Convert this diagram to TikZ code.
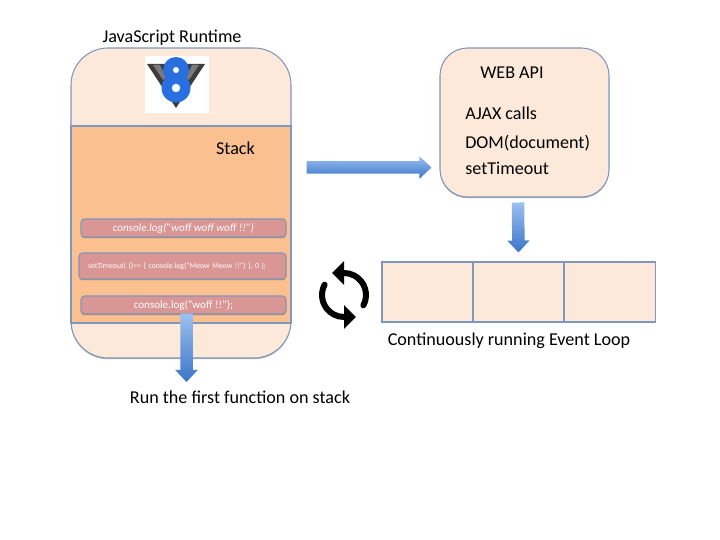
\documentclass[tikz,border=0pt]{standalone}
\usepackage{fontspec}
\setmainfont{Carlito}
\usepackage{xcolor}
\usetikzlibrary{arrows.meta,positioning,calc,shadows}
\definecolor{peach}{HTML}{FDE9D9}
\definecolor{stackbg}{HTML}{FAC090}
\definecolor{callbg}{HTML}{D99694}
\definecolor{edgeblue}{HTML}{7F97BC}
\definecolor{arrtop}{HTML}{9CC0F0}
\definecolor{arrbot}{HTML}{3A75C8}
\definecolor{v8blue}{HTML}{2A6FE0}
\definecolor{v8dark}{HTML}{3C3C3C}
\definecolor{v8gray}{HTML}{7A7A7A}
\tikzset{
  softshadow/.style={drop shadow={shadow xshift=0pt,shadow yshift=-0.7pt,opacity=0.3,fill=black}},
  roundbox/.style={draw=edgeblue,fill=peach,line width=0.6pt,softshadow},
  slotbox/.style={draw=edgeblue,fill=peach,line width=0.6pt,minimum width=1.82cm,minimum height=1.2cm,inner sep=0pt,softshadow},
  callbox/.style={draw=edgeblue,fill=callbg,line width=0.6pt,rounded corners=2pt,inner sep=0pt,
                  text=white,align=center,softshadow},
  labeltext/.style={font=\fontsize{10.3}{12}\selectfont,inner sep=0pt},
  fatarr/.style={top color=arrtop,bottom color=arrbot,
    to path={-- ($(\tikztostart)!.125cm!90:(\tikztotarget)$)
             -- ($(\tikztotarget)!.24cm!(\tikztostart)!.125cm!90:(\tikztotarget)$)
             -- ($(\tikztotarget)!.24cm!(\tikztostart)!.225cm!90:(\tikztotarget)$)
             -- (\tikztotarget)
             -- ($(\tikztotarget)!.24cm!(\tikztostart)!.225cm!-90:(\tikztotarget)$)
             -- ($(\tikztotarget)!.24cm!(\tikztostart)!.125cm!-90:(\tikztotarget)$)
             -- ($(\tikztostart)!.125cm!-90:(\tikztotarget)$) -- cycle}},
  syncarr/.style={line width=0.12cm,line cap=round,-{Triangle[length=.24cm,width=.46cm]}}
}

\begin{document}
\begin{tikzpicture}[x=1cm,y=1cm]
  \useasboundingbox (0,0) rectangle (14.4,10.8);

  % left side
  \node[roundbox,rounded corners=0.74cm,minimum width=4.4cm,minimum height=6.2cm] (runtime) at (3.62,6.74) {};
  \node[draw=edgeblue,fill=stackbg,line width=0.6pt,minimum width=4.4cm,minimum height=3.94cm] (stack) at (3.62,6.31) {};
  \node[labeltext] (runtimelabel) at (3.44,10.04) {JavaScript Runtime};
  \node[labeltext] (stacklabel) at (4.71,7.84) {Stack};

  % logo
  \node[fill=white,minimum width=1.28cm,minimum height=1.14cm,inner sep=0pt] (logo) at (3.54,9.11) {};
  \fill[v8dark] (2.94,9.52) -- (3.52,8.64) -- (4.1,9.52) -- cycle;
  \fill[v8gray] (3.84,9.5) -- (3.98,9.5) -- (3.78,9.2) -- (3.72,9.25) -- cycle;
  \fill[v8gray] (3.2,9.5) -- (3.06,9.5) -- (3.26,9.2) -- (3.32,9.25) -- cycle;
  \fill[v8blue] (3.52,9.4) circle (0.26);
  \fill[v8blue] (3.52,9.04) circle (0.29);
  \fill[white] (3.52,9.4) circle (0.06);
  \fill[white] (3.52,9.04) circle (0.085);

  \node[callbox,minimum width=4.1cm,minimum height=0.36cm,font=\fontsize{6.3}{7}\selectfont\itshape] (woffthree) at (3.67,6.24) {console.log("woff woff woff !!")};
  \node[callbox,minimum width=4.14cm,minimum height=0.52cm,text width=3.78cm,align=left,font=\fontsize{4.4}{5}\selectfont] (timeoutcall) at (3.65,5.48) {setTimeout( ()=> \{ console.log("Meow Meow !!") \}, 0 );};
  \node[callbox,minimum width=4.1cm,minimum height=0.36cm,font=\fontsize{6.3}{7}\selectfont] (woffone) at (3.67,4.7) {console.log("woff !!");};

  \coordinate (runout) at (3.73,3.16);
  \shade[fatarr] ([shift={(.06,.02)}]woffone.south) to (runout);
  \node[labeltext] (runlabel) at (4.8,2.86) {Run the first function on stack};

  % right side
  \node[roundbox,rounded corners=0.55cm,minimum width=3.38cm,minimum height=2.98cm] (webapi) at (10.49,8.35) {};
  \node[labeltext,anchor=west] (apilabel) at (9.6,9.34) {WEB API};
  \node[labeltext,anchor=west] (ajax) at (9.3,8.54) {AJAX calls};
  \node[labeltext,anchor=west] (dom) at (9.3,7.94) {DOM(document)};
  \node[labeltext,anchor=west] (timeout) at (9.3,7.44) {setTimeout};

  \node[slotbox] (slotone) at (8.55,4.96) {};
  \node[slotbox] (slottwo) at (10.37,4.96) {};
  \node[slotbox] (slotthree) at (12.2,4.96) {};
  \node[labeltext] (looplabel) at (10.18,3.98) {Continuously running Event Loop};

  \shade[fatarr] ([shift={(.3,1.14)}]stack.east) to ([shift={(-.16,-.9)}]webapi.west);
  \shade[fatarr] ([shift={(-.13,-.1)}]webapi.south) to ([yshift=.18cm]slottwo.north);

  % loop icon
  \coordinate (sync) at (6.88,4.9);
  \draw[syncarr] ([shift={(-28:.44)}]sync) arc (-28:90:.44) -- ++(-.24,0);
  \draw[syncarr] ([shift={(152:.44)}]sync) arc (152:270:.44) -- ++(.24,0);
\end{tikzpicture}
\end{document}
